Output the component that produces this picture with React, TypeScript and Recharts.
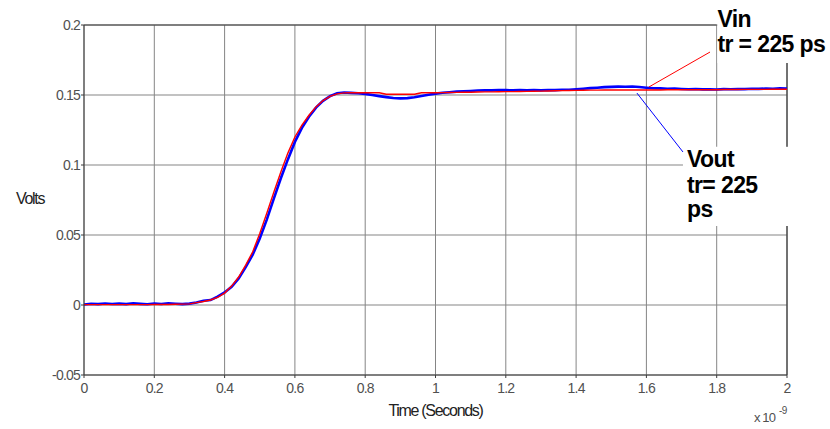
import React from 'react';
import {
  LineChart, Line, XAxis, YAxis, CartesianGrid, ReferenceLine, ReferenceArea,
} from 'recharts';

const timeNs = [
  0, 0.02, 0.04, 0.06, 0.08, 0.1, 0.12, 0.14, 0.16, 0.18, 0.2, 0.22, 0.24, 0.26, 0.28, 0.3,
  0.32, 0.34, 0.36, 0.38, 0.4, 0.42, 0.44, 0.46, 0.48, 0.5, 0.52, 0.54, 0.56, 0.58, 0.6,
  0.62, 0.64, 0.66, 0.68, 0.7, 0.72, 0.74, 0.76, 0.78, 0.8,
  0.82, 0.84, 0.86, 0.88, 0.9, 0.92, 0.94, 0.96, 0.98, 1.0, 1.02, 1.04, 1.06, 1.08, 1.1,
  1.12, 1.14, 1.16, 1.18, 1.2, 1.22, 1.24, 1.26, 1.28, 1.3, 1.32, 1.34, 1.36, 1.38, 1.4,
  1.42, 1.44, 1.46, 1.48, 1.5, 1.52, 1.54, 1.56, 1.58, 1.6, 1.62, 1.64, 1.66, 1.68, 1.7,
  1.72, 1.74, 1.76, 1.78, 1.8, 1.82, 1.84, 1.86, 1.88, 1.9, 1.92, 1.94, 1.96, 1.98, 2.0,
];

const vin = [
  0.0003, 0.0003, 0.0003, 0.0003, 0.0003, 0.0003, 0.0003, 0.0003, 0.0003, 0.0003, 0.0004, 0.0004, 0.0004, 0.0005, 0.0006, 0.0008,
  0.0017, 0.0025, 0.0036, 0.0055, 0.0085, 0.0135, 0.02, 0.0285, 0.038, 0.051, 0.0655, 0.0805, 0.095, 0.1085, 0.12,
  0.1285, 0.1355, 0.1415, 0.146, 0.149, 0.1508, 0.1515, 0.1516, 0.1516, 0.1516,
  0.1516, 0.1516, 0.1505, 0.1505, 0.1505, 0.1505, 0.1505, 0.1516, 0.1516, 0.1516, 0.1517, 0.1518, 0.1519, 0.152, 0.152,
  0.1521, 0.1522, 0.1522, 0.1523, 0.1524, 0.1524, 0.1525, 0.1526, 0.1527, 0.1528, 0.1529, 0.153, 0.1531, 0.1532, 0.1533,
  0.1534, 0.1535, 0.1535, 0.1536, 0.1536, 0.1536, 0.1536, 0.1536, 0.1536, 0.1536, 0.1536, 0.1536, 0.1537, 0.1537, 0.1537,
  0.1537, 0.1538, 0.1538, 0.1538, 0.1538, 0.1539, 0.1539, 0.1539, 0.154, 0.154, 0.154, 0.154, 0.1541, 0.1541, 0.1541,
];

const vout = [
  0.0004, 0.0009, 0.0006, 0.0011, 0.0007, 0.001, 0.0006, 0.0012, 0.0008, 0.0005, 0.0011, 0.0007, 0.0012, 0.0009, 0.0006, 0.001,
  0.0018, 0.003, 0.0035, 0.006, 0.009, 0.013, 0.019, 0.027, 0.036, 0.0475, 0.061, 0.076, 0.0905, 0.104, 0.1165,
  0.1265, 0.1345, 0.141, 0.1458, 0.1492, 0.1512, 0.1518, 0.1515, 0.1512, 0.1508,
  0.15, 0.1492, 0.1485, 0.1479, 0.1476, 0.1478, 0.1484, 0.1493, 0.1502, 0.151, 0.1516, 0.152, 0.1524, 0.1527, 0.1529,
  0.1532, 0.1534, 0.1533, 0.1536, 0.1535, 0.1533, 0.1536, 0.1534, 0.1535, 0.1533, 0.1536, 0.1535, 0.1538, 0.1537, 0.1541,
  0.1545, 0.1549, 0.1552, 0.1556, 0.1558, 0.156, 0.1559, 0.1561, 0.1557, 0.1552, 0.1548, 0.1547, 0.1545, 0.1546, 0.1543,
  0.1541, 0.1543, 0.154, 0.1541, 0.1539, 0.1542, 0.1541, 0.1543, 0.1542, 0.1545, 0.1544, 0.1546, 0.1545, 0.1547, 0.1546,
];

const xTicks = [0, 0.2, 0.4, 0.6, 0.8, 1, 1.2, 1.4, 1.6, 1.8, 2];
const xTickLabels = ['0', '0.2', '0.4', '0.6', '0.8', '1', '1.2', '1.4', '1.6', '1.8', '2'];
const yTicks = [-0.05, 0, 0.05, 0.1, 0.15, 0.2];
const yTickLabels = ['-0.05', '0', '0.05', '0.1', '0.15', '0.2'];

const vinText = ['Vin', 'tr = 225 ps'];
const voutText = ['Vout', 'tr= 225', 'ps'];

const data = timeNs.map((t, i) => ({ t, vin: vin[i], vout: vout[i] }));

const FONT = '"Liberation Sans", Arial, sans-serif';
const AXIS = '#3c3c3c';
const GRID = '#858585';
const TICK = '#505050';

const makeBoxLabel = (lines: string[], dx: number, baselines: number[], fromBottom: boolean) =>
  (props: any) => {
    const vb = props.viewBox || {};
    const ref = fromBottom ? vb.y + vb.height : vb.y;
    return (
      <g>
        {lines.map((s, i) => (
          <text
            key={i}
            x={vb.x + dx}
            y={ref + baselines[i]}
            fontFamily={FONT}
            fontWeight="bold"
            fontSize={23}
            letterSpacing={-0.6}
            fill="#000"
          >
            {s}
          </text>
        ))}
      </g>
    );
  };

const XLabel = (props: any) => {
  const vb = props.viewBox || {};
  const cx = vb.x + vb.width / 2;
  const right = vb.x + vb.width;
  return (
    <g fontFamily={FONT}>
      <text x={cx} y={vb.y + 41} textAnchor="middle" fontSize={16} letterSpacing={-1.3} fill="#222">
        Time (Seconds)
      </text>
      <text x={right - 33} y={vb.y + 47} fontSize={13} letterSpacing={-0.9} fill={TICK}>
        x 10
      </text>
      <text x={right - 8} y={vb.y + 39} fontSize={10} letterSpacing={-0.5} fill={TICK}>
        -9
      </text>
    </g>
  );
};

const YLabel = (props: any) => {
  const vb = props.viewBox || {};
  return (
    <text x={30} y={vb.y + vb.height / 2 + 4} textAnchor="middle" fontFamily={FONT} fontSize={16} letterSpacing={-1.3} fill="#222">
      Volts
    </text>
  );
};

export default function App() {
  return (
    <div style={{ position: 'absolute', left: 0, top: 0, width: 830, height: 429, background: '#fff' }}>
      <LineChart width={830} height={429} data={data} margin={{ top: 25, right: 43, left: 0, bottom: 0 }}>
        <CartesianGrid stroke={GRID} strokeWidth={1} />
        <XAxis
          dataKey="t"
          type="number"
          domain={[0, 2]}
          ticks={xTicks}
          allowDataOverflow
          height={54}
          tickSize={3}
          tickMargin={5}
          stroke={AXIS}
          tickFormatter={(v: number, i: number) => xTickLabels[i]}
          tick={{ fill: TICK, fontSize: 14, fontFamily: FONT, letterSpacing: -0.8 }}
          label={<XLabel />}
        />
        <YAxis
          type="number"
          domain={[-0.05, 0.2]}
          ticks={yTicks}
          allowDataOverflow
          width={84}
          tickSize={3}
          tickMargin={1}
          stroke={AXIS}
          tickFormatter={(v: number, i: number) => yTickLabels[i]}
          tick={{ fill: TICK, fontSize: 14, fontFamily: FONT, letterSpacing: -0.8 }}
          label={<YLabel />}
        />
        <ReferenceArea x1={1.704} x2={2.02} y1={0.0564} y2={0.1131} fill="#fff" fillOpacity={1} stroke="none" ifOverflow="visible"
          label={makeBoxLabel(voutText, 4, [20, 46.5, 70], false)} />
        <ReferenceArea x1={1.802} x2={2.2} y1={0.1729} y2={0.24} fill="#fff" fillOpacity={1} stroke="none" ifOverflow="visible"
          label={makeBoxLabel(vinText, 0, [-35.5, -10.5], true)} />
        <ReferenceLine segment={[{ x: 0, y: 0.2 }, { x: 1.8, y: 0.2 }]} stroke={AXIS} strokeWidth={1.2} ifOverflow="visible" />
        <ReferenceLine segment={[{ x: 2, y: -0.05 }, { x: 2, y: 0.0564 }]} stroke={AXIS} strokeWidth={1.2} ifOverflow="visible" />
        <ReferenceLine segment={[{ x: 2, y: 0.1131 }, { x: 2, y: 0.1729 }]} stroke={AXIS} strokeWidth={1.2} ifOverflow="visible" />
        <Line type="linear" dataKey="vout" stroke="#0000ff" strokeWidth={2.6} dot={false} isAnimationActive={false} />
        <Line type="linear" dataKey="vin" stroke="#ff0000" strokeWidth={1.4} dot={false} isAnimationActive={false} />
        <ReferenceLine segment={[{ x: 1.607, y: 0.1557 }, { x: 1.781, y: 0.1807 }]} stroke="#ff0000" strokeWidth={1} ifOverflow="visible" />
        <ReferenceLine segment={[{ x: 1.573, y: 0.1514 }, { x: 1.704, y: 0.1093 }]} stroke="#0000ff" strokeWidth={1} ifOverflow="visible" />
      </LineChart>
    </div>
  );
}
